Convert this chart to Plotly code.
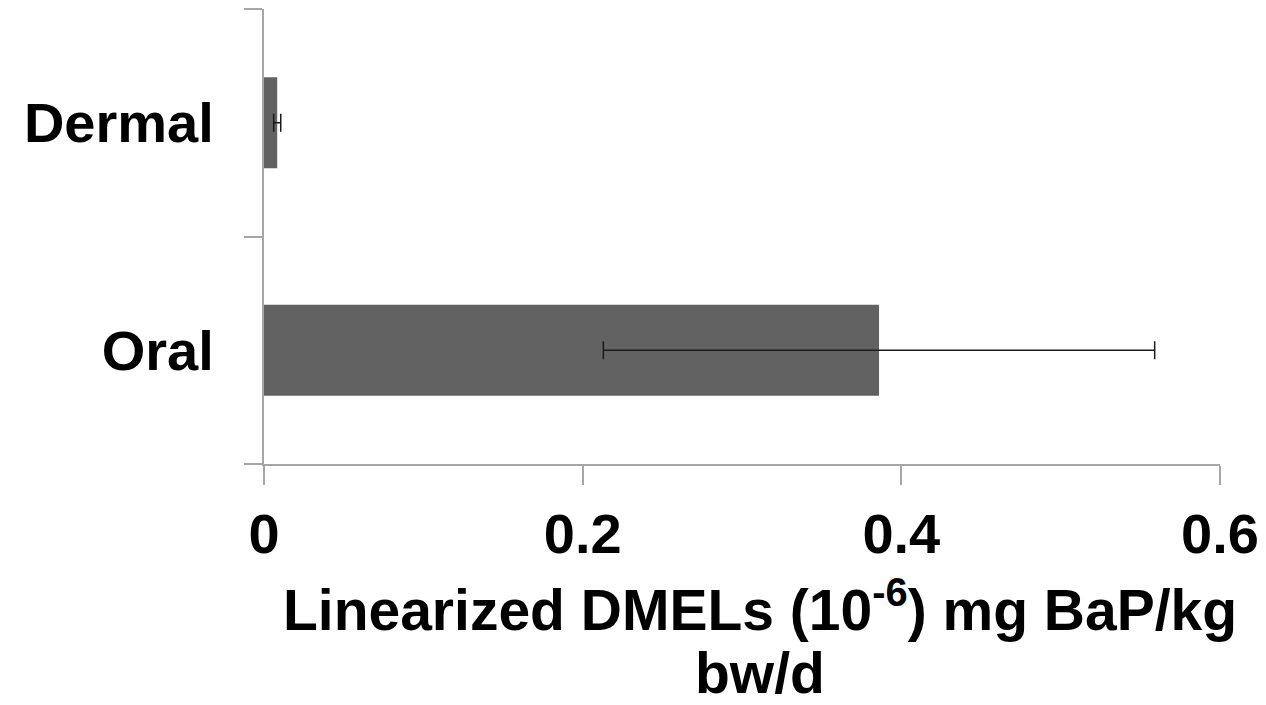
import plotly.graph_objects as go

categories = ["Oral", "Dermal"]
values = [0.386, 0.0083]
err_plus = [0.173, 0.0022]
err_minus = [0.173, 0.0022]
x_ticks = [0, 0.2, 0.4, 0.6]
x_tick_labels = ["0", "0.2", "0.4", "0.6"]
title_line1 = "Linearized DMELs (10<sup>-6</sup>) mg BaP/kg"
title_line2 = "bw/d"

FONT = "Liberation Sans, Arial, sans-serif"

fig = go.Figure(
    go.Bar(
        x=values,
        y=categories,
        orientation="h",
        marker=dict(color="#626262", line=dict(width=0)),
        error_x=dict(
            type="data",
            symmetric=False,
            array=err_plus,
            arrayminus=err_minus,
            color="#1a1a1a",
            thickness=1.5,
            width=9,
        ),
    )
)

fig.update_layout(
    width=1266,
    height=705,
    margin=dict(l=264, r=46, t=9, b=241),
    paper_bgcolor="white",
    plot_bgcolor="rgba(0,0,0,0)",
    bargap=0.6,
    showlegend=False,
    font=dict(family=FONT, color="black"),
)

fig.update_xaxes(
    range=[0, 0.6],
    tickvals=x_ticks,
    ticktext=x_tick_labels,
    ticks="outside",
    ticklen=19,
    tickwidth=2,
    tickcolor="#a6a6a6",
    showline=True,
    linecolor="#a6a6a6",
    linewidth=2,
    showgrid=False,
    zeroline=False,
    automargin=False,
    tickfont=dict(family=FONT, size=56, weight="bold", color="black"),
    ticklabelstandoff=1,
)

fig.update_yaxes(
    type="category",
    categoryorder="array",
    categoryarray=categories,
    tickson="boundaries",
    ticks="outside",
    ticklen=18,
    tickwidth=2,
    tickcolor="#a6a6a6",
    showline=True,
    linecolor="#a6a6a6",
    linewidth=2,
    showgrid=False,
    zeroline=False,
    automargin=False,
    tickfont=dict(family=FONT, size=56, weight="bold", color="black"),
    ticklabelstandoff=37,
)

title_font = dict(family=FONT, size=57, weight="bold", color="black")
fig.add_annotation(
    text=title_line1, xref="paper", yref="paper", x=0.519, y=-0.311,
    xanchor="center", yanchor="middle", showarrow=False, font=title_font,
)
fig.add_annotation(
    text=title_line2, xref="paper", yref="paper", x=0.519, y=-0.459,
    xanchor="center", yanchor="middle", showarrow=False, font=title_font,
)

fig.write_html("out.html")
